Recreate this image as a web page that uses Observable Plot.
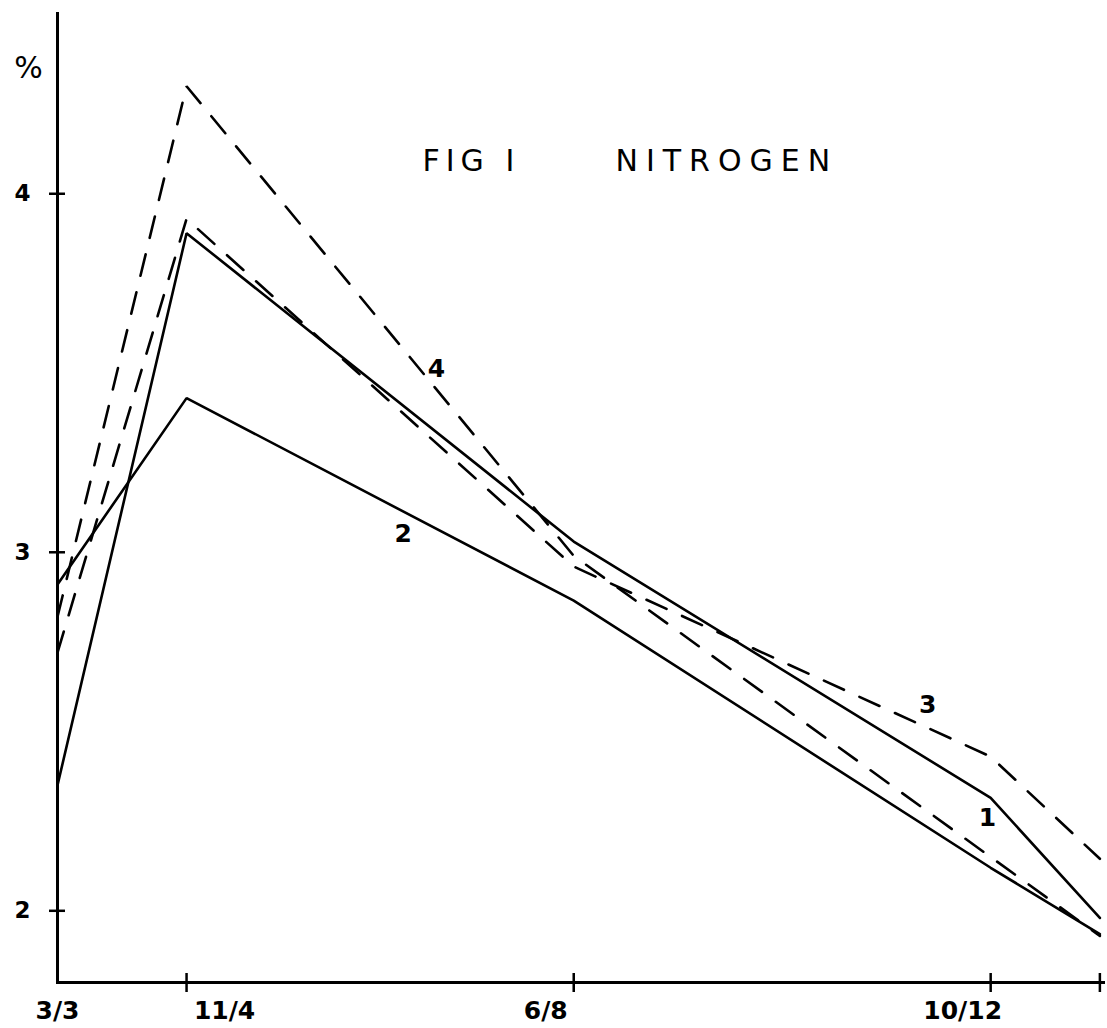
<!DOCTYPE html>
<html><head><meta charset="utf-8">
<script src="https://cdn.jsdelivr.net/npm/d3@7"></script>
<script src="https://cdn.jsdelivr.net/npm/@observablehq/plot@0.6"></script>
<style>html,body{margin:0;padding:0;background:#fff;} #chart svg{display:block}</style>
</head><body><div id="chart"></div>
<script>
// ---- data ----
const dateLabels = ["3/3", "11/4", "6/8", "10/12", ""];
const dayOffsets = [0, 39, 156, 282, 315];          // days after 3 March
const series1 = [2.35, 3.89, 3.03, 2.315, 1.98];    // solid
const series2 = [2.91, 3.43, 2.865, 2.12, 1.935];   // solid
const series3 = [2.72, 3.93, 2.96, 2.43, 2.145];    // dashed
const series4 = [2.82, 4.30, 2.99, 2.15, 1.93];     // dashed
const seriesNames = ["1", "2", "3", "4"];
const yTicks = [2, 3, 4];
const yTickLabels = ["2", "3", "4"];
const seriesLabelDay = [281, 104.5, 263, 114.5];
const seriesLabelValue = [2.26, 3.05, 2.575, 3.51];
const titleLeft = "FIG I";
const titleRight = "NITROGEN";
const unitLabel = "%";

// ---- build ----
const allSeries = [series1, series2, series3, series4];
const rows = seriesNames.flatMap((name, i) =>
  allSeries[i].map((v, j) => ({series: name, day: dayOffsets[j], value: v})));
const solidRows = rows.filter(d => d.series === "1" || d.series === "2");
const dashedRows = rows.filter(d => d.series === "3" || d.series === "4");
const seriesLabels = seriesNames.map((n, i) => ({name: n, day: seriesLabelDay[i], value: seriesLabelValue[i]}));

const xMax = 316.7, yMin = 1.8, yMax = 4.5;
const xLabelNudge = [0, 38, -28, -28, 0];
const labelFont = "DejaVu Sans";

const chart = Plot.plot({
  width: 1107, height: 1028,
  marginLeft: 57, marginRight: 2, marginTop: 14, marginBottom: 46,
  x: {domain: [0, xMax], axis: null},
  y: {domain: [yMin, yMax], axis: null},
  style: {background: "#fff", fontFamily: labelFont, color: "#000"},
  marks: [
    // axes
    Plot.ruleX([0], {stroke: "#000", strokeWidth: 3, insetTop: -2, insetBottom: -2}),
    Plot.ruleY([yMin], {stroke: "#000", strokeWidth: 3}),
    Plot.ruleY(yTicks, {y: d => d, x1: 0, x2: 0, insetLeft: -8, insetRight: -8, stroke: "#000", strokeWidth: 2.5}),
    Plot.ruleX(dayOffsets.slice(1), {x: d => d, y1: yMin, y2: yMin, insetTop: -9, insetBottom: -10, stroke: "#000", strokeWidth: 2.5}),
    Plot.text(yTickLabels, {x: 0, y: (d, i) => yTicks[i], text: d => d, dx: -35, textAnchor: "middle", lineAnchor: "middle", fontSize: 23, fontWeight: "bold", fill: "#000"}),
    ...dateLabels.map((lab, i) => lab ? Plot.text([lab], {x: dayOffsets[i], y: yMin, text: d => d, dx: xLabelNudge[i], dy: 19, textAnchor: "middle", lineAnchor: "top", fontSize: 25, fontWeight: "bold", fill: "#000"}) : null).filter(Boolean),
    // series
    Plot.line(solidRows, {x: "day", y: "value", z: "series", stroke: "#000", strokeWidth: 2.6, strokeLinejoin: "miter"}),
    Plot.line(dashedRows, {x: "day", y: "value", z: "series", stroke: "#000", strokeWidth: 2.6, strokeLinejoin: "miter", strokeDasharray: "22,17"}),
    // series labels
    Plot.text(seriesLabels, {x: "day", y: "value", text: "name", textAnchor: "middle", lineAnchor: "middle", fontSize: 25, fontWeight: "bold", fill: "#000"}),
    // title and unit
    Plot.text([titleLeft], {frameAnchor: "top-left", text: d => d, dx: 365, dy: 135, textAnchor: "start", lineAnchor: "top", fontSize: 30, fill: "#000"}),
    Plot.text([titleRight], {frameAnchor: "top-left", text: d => d, dx: 558, dy: 135, textAnchor: "start", lineAnchor: "top", fontSize: 30, fill: "#000"}),
    Plot.text([unitLabel], {frameAnchor: "top-left", text: d => d, dx: -29, dy: 54, textAnchor: "middle", lineAnchor: "middle", fontSize: 30, fill: "#000"})
  ]
});
d3.select(chart).selectAll("text")
  .filter(function() { return this.textContent === titleLeft; })
  .style("letter-spacing", "6px");
d3.select(chart).selectAll("text")
  .filter(function() { return this.textContent === titleRight; })
  .style("letter-spacing", "8px");
document.getElementById("chart").appendChild(chart);
</script>
</body></html>
